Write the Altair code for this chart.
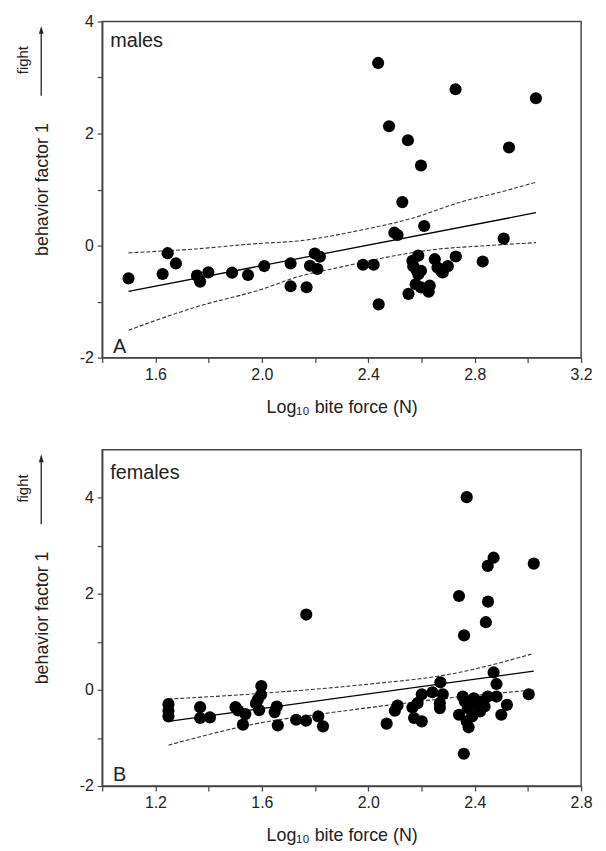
import altair as alt
import pandas as pd

# ---------------- data ----------------
males_x = [1.499, 1.646, 1.677, 1.627, 1.756, 1.768, 1.799, 1.888, 1.948, 2.009,
           2.108, 2.108, 2.168, 2.181, 2.199, 2.218, 2.209, 2.380, 2.420, 2.439,
           2.498, 2.510, 2.610, 2.528, 2.909, 2.551, 2.437, 2.728, 3.030, 2.478,
           2.549, 2.929, 2.598, 2.588, 2.566, 2.569, 2.581, 2.598, 2.588, 2.578,
           2.598, 2.631, 2.627, 2.650, 2.660, 2.675, 2.680, 2.699, 2.729, 2.830]
males_y = [-0.586, -0.136, -0.319, -0.507, -0.537, -0.643, -0.478, -0.484, -0.525, -0.366,
           -0.319, -0.726, -0.743, -0.360, -0.142, -0.200, -0.419, -0.342, -0.342, -1.050,
           0.230, 0.189, 0.349, 0.776, 0.124, -0.862, 3.260, 2.790, 2.630, 2.130,
           1.880, 1.750, 1.430, -0.180, -0.270, -0.367, -0.438, -0.450, -0.510, -0.690,
           -0.746, -0.716, -0.823, -0.243, -0.391, -0.468, -0.480, -0.367, -0.195, -0.284]

females_x = [1.249, 1.249, 1.249, 1.368, 1.368, 1.405, 1.501, 1.511, 1.538, 1.529,
             1.598, 1.597, 1.585, 1.578, 1.590, 1.656, 1.648, 1.660, 1.729, 1.767,
             1.766, 1.812, 1.830, 2.069, 2.100, 2.110, 2.166, 2.172, 2.185, 2.201,
             2.201, 2.241, 2.271, 2.280, 2.269, 2.269, 2.359, 2.341, 2.355, 2.363,
             2.374, 2.370, 2.377, 2.390, 2.397, 2.405, 2.420, 2.426, 2.437, 2.449,
             2.471, 2.482, 2.482, 2.500, 2.521, 2.603, 2.370, 2.471, 2.449, 2.622,
             2.341, 2.450, 2.442, 2.360]
females_y = [-0.296, -0.434, -0.550, -0.358, -0.585, -0.572, -0.358, -0.427, -0.503, -0.723,
             0.080, -0.100, -0.200, -0.280, -0.420, -0.345, -0.461, -0.737, -0.620, 1.570,
             -0.640, -0.550, -0.758, -0.702, -0.434, -0.324, -0.365, -0.585, -0.275, -0.089,
             -0.654, -0.048, 0.159, -0.089, -0.275, -0.378, -1.329, -0.517, -0.138, -0.242,
             -0.379, -0.655, -0.778, -0.551, -0.172, -0.310, -0.448, -0.242, -0.345, -0.138,
             0.365, 0.124, -0.138, -0.517, -0.310, -0.090, 4.015, 2.754, 2.583, 2.630,
             1.956, 1.839, 1.411, 1.136]

# regression line and confidence curves
m_fit_x = [1.499, 3.030]
m_fit_y = [-0.817, 0.586]
m_up_x = [1.499, 1.750, 1.980, 2.137, 2.386, 2.560, 2.750, 2.900, 3.030]
m_up_y = [-0.130, -0.060, 0.035, 0.083, 0.290, 0.480, 0.780, 0.960, 1.130]
m_lo_x = [1.499, 1.764, 2.000, 2.137, 2.300, 2.435, 2.659, 2.850, 3.030]
m_lo_y = [-1.510, -1.080, -0.780, -0.554, -0.380, -0.240, -0.065, 0.000, 0.053]

f_fit_x = [1.249, 2.622]
f_fit_y = [-0.655, 0.393]
f_up_x = [1.249, 1.600, 2.000, 2.300, 2.622]
f_up_y = [-0.190, -0.070, 0.120, 0.320, 0.760]
f_lo_x = [1.249, 1.600, 1.850, 2.100, 2.300, 2.622]
f_lo_y = [-1.150, -0.680, -0.480, -0.300, -0.170, 0.000]

x_ticks_top = [1.4, 1.6, 1.8, 2.0, 2.2, 2.4, 2.6, 2.8, 3.0, 3.2]
x_ticks_bot = [1.0, 1.2, 1.4, 1.6, 1.8, 2.0, 2.2, 2.4, 2.6, 2.8]
y_ticks = [-2, -1, 0, 1, 2, 3, 4]

FONT = "Liberation Sans"
INK = "#222222"
FRAME = "#444444"
W, H = 483, 339


def panel(px, py, fx, fy, ux, uy, lx, ly, xdom, ydom, xticks,
          label, label_base, letter, letter_base):
    xs = alt.Scale(domain=xdom, nice=False, zero=False)
    ys = alt.Scale(domain=ydom, nice=False, zero=False)
    xaxis = alt.Axis(values=xticks, grid=False, labelOverlap=False, labelFlush=False,
                     labelExpr="round(datum.value*10) % 4 == 0 ? format(datum.value, '.1f') : ''",
                     title="Log\u2081\u2080 bite force (N)")
    yaxis = alt.Axis(values=y_ticks, grid=False, labelOverlap=False, labelFlush=False,
                     labelExpr="round(datum.value) % 2 == 0 ? '' + datum.value : ''",
                     title=None)
    pts = alt.Chart(pd.DataFrame({"x": px, "y": py})).mark_circle(
        size=150, color="black", opacity=1
    ).encode(x=alt.X("x:Q", scale=xs, axis=xaxis), y=alt.Y("y:Q", scale=ys, axis=yaxis))
    fit = alt.Chart(pd.DataFrame({"x": fx, "y": fy})).mark_line(
        color="black", strokeWidth=1.3
    ).encode(x="x:Q", y="y:Q")
    up = alt.Chart(pd.DataFrame({"x": ux, "y": uy})).mark_line(
        color="#333333", strokeWidth=1.1, strokeDash=[4, 2], interpolate="monotone"
    ).encode(x="x:Q", y="y:Q")
    lo = alt.Chart(pd.DataFrame({"x": lx, "y": ly})).mark_line(
        color="#333333", strokeWidth=1.1, strokeDash=[4, 2], interpolate="monotone"
    ).encode(x="x:Q", y="y:Q")

    def txt(s, x, y, size, **kw):
        return alt.Chart(pd.DataFrame({"t": [s]})).mark_text(
            font=FONT, fontSize=size, color=INK, **kw
        ).encode(text="t:N", x=alt.value(x), y=alt.value(y))

    lab = txt(label, 8, label_base, 20, align="left", baseline="alphabetic")
    let = txt(letter, 11, letter_base, 20, align="left", baseline="alphabetic")
    ytitle = txt("behavior factor 1", -59.5, H / 2, 18, angle=270,
                 align="center", baseline="middle")
    fight = txt("fight", -80, 39, 15, angle=270, align="center", baseline="middle")
    shaft = alt.Chart(pd.DataFrame({"a": [0]})).mark_rule(
        color=INK, strokeWidth=1.3
    ).encode(x=alt.value(-61.5), y=alt.value(9), y2=alt.value(75))
    head = alt.Chart(pd.DataFrame({"a": [0]})).mark_point(
        shape="M0,-1L0.6,1L-0.6,1Z", filled=True, size=64, color=INK, opacity=1
    ).encode(x=alt.value(-61.5), y=alt.value(8.5))

    return alt.layer(lo, up, fit, pts, lab, let, ytitle, fight, shaft, head).properties(
        width=W, height=H)


top = panel(males_x, males_y, m_fit_x, m_fit_y, m_up_x, m_up_y, m_lo_x, m_lo_y,
            [1.4, 3.2], [-2, 4], x_ticks_top, "males", 26, "A", 334)
bottom = panel(females_x, females_y, f_fit_x, f_fit_y, f_up_x, f_up_y, f_lo_x, f_lo_y,
               [1.0, 2.8], [-2, 5], x_ticks_bot, "females", 29.7, "B", 334)

chart = alt.vconcat(top, bottom, spacing=32).configure_view(
    stroke=FRAME, strokeWidth=1.5
).configure_axis(
    domainColor=FRAME, domainWidth=1.5, tickColor=FRAME, tickSize=5, tickWidth=1.2,
    labelFont=FONT, labelFontSize=16, labelColor=INK, labelPadding=4,
    titleFont=FONT, titleFontSize=18, titleFontWeight="normal", titleColor=INK,
    titlePadding=16
).properties(padding={"left": 7, "top": 1, "right": 5, "bottom": 5})

chart.save("out.html", embed_options={"renderer": "svg", "actions": False})
